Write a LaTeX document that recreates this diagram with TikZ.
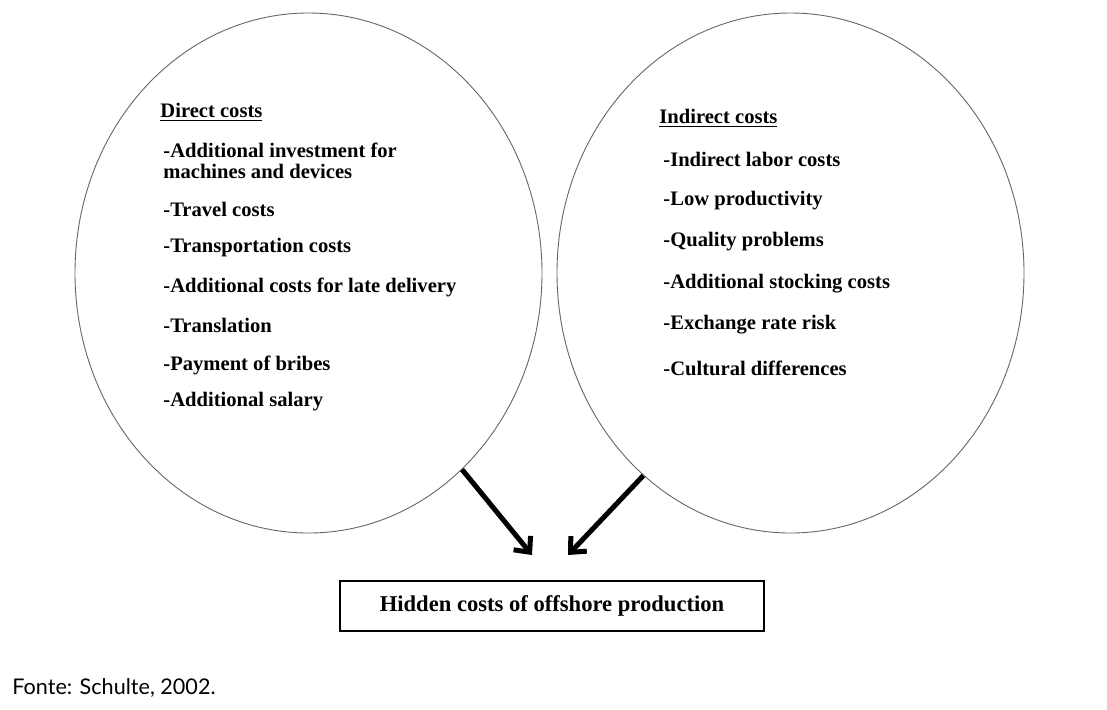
\documentclass[tikz,border=0pt]{standalone}
\usepackage{fontspec}
\setmainfont{Liberation Serif}
\newfontfamily\sourcefont{Lato}
\usetikzlibrary{shapes.geometric, arrows.meta, positioning, calc}

\begin{document}
\begin{tikzpicture}[x=0.5pt, y=-0.5pt, every node/.style={inner sep=0pt},
  costcircle/.style={ellipse, draw=black!60, line width=0.45pt, minimum width=233.5pt, minimum height=260pt},
  item/.style={anchor=west, font=\bfseries\fontsize{10.3}{11}\selectfont},
  heavyarrow/.style={line width=2.5pt, -{Straight Barb[length=6pt, width=11pt]}}]
        % Page area
        \useasboundingbox[fill=white] (0,0) rectangle (1107,709);

        % The two groups of costs
        \node[costcircle] (direct) at (308.5,273) {};
        \node[costcircle] (indirect) at (790.5,273) {};

        % Direct costs
        \node[item] (dhead) at (160,112) {\underline{Direct costs}};
        \foreach \y/\txt [count=\i] in {150/-Additional investment for, 171/machines and devices,
            209/-Travel costs, 248/-Transportation costs, 287/-Additional costs for late delivery,
            325/-Translation, 365/-Payment of bribes, 402/-Additional salary}
        {
          \node[item] (d\i) at (163,\y) {\txt};
        }

        % Indirect costs
        \node[item] (ihead) at (659,118) {\underline{Indirect costs}};
        \foreach \y/\txt [count=\i] in {159/-Indirect labor costs, 201/-Low productivity,
            242/-Quality problems, 284/-Additional stocking costs, 325/-Exchange rate risk,
            368/-Cultural differences}
        {
          \node[item] (i\i) at (663,\y) {\txt};
        }

        % Result box
        \node[draw, line width=1.1pt, minimum width=212pt, minimum height=25pt,
              font=\bfseries\fontsize{11.3}{13}\selectfont] (hidden) at (552,606) {Hidden costs of offshore production};
        \coordinate (tipL) at (532,555);
        \coordinate (tipR) at (568,555);

        \draw[heavyarrow] (direct.-52) -- (tipL);
        \draw[heavyarrow] (indirect.234) -- (tipR);

        % Source
        \node[anchor=west, font=\sourcefont\fontsize{10.8}{12}\selectfont] (source) at (12,688) {Fonte: Schulte, 2002.};
      \end{tikzpicture}
\end{document}
